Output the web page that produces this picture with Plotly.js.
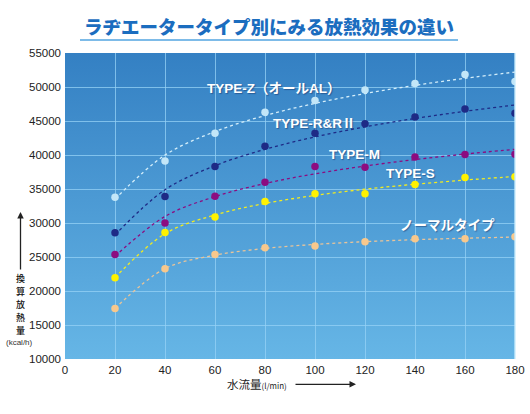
<!DOCTYPE html>
<html>
<head>
<meta charset="utf-8">
<script src="https://cdn.plot.ly/plotly-3.0.1.min.js"></script>
<style>html,body{margin:0;padding:0;background:#fff;}#chart{width:530px;height:414px;}</style>
</head>
<body>
<div id="chart"></div>
<script>
// ---- data ----
const flow = [20, 40, 60, 80, 100, 120, 140, 160, 180];
const typeZ = [33800, 39100, 43200, 46300, 48000, 49550, 50500, 51850, 50800];
const typeR = [28550, 33900, 38300, 41300, 43200, 44600, 45600, 46750, 46150];
const typeM = [25370, 30000, 33940, 36000, 38300, 38200, 39700, 40060, 40100];
const typeS = [21940, 28600, 30900, 33150, 34300, 34300, 35650, 36700, 36800];
const typeN = [17440, 23260, 25370, 26350, 26600, 27230, 27700, 27700, 27960];
const seriesNames = ['TYPE-Z（オールAL）', 'TYPE-R&RⅡ', 'TYPE-M', 'TYPE-S', 'ノーマルタイプ'];
const seriesColors = ['#c2e6f8', '#1e2a86', '#8c0c80', '#fff200', '#f8c88c'];
const lineColors = ['#d4eefa', '#1e2a86', '#8c0c80', '#f2ec20', '#e8c49a'];
const labelX = [83.4, 99.6, 115.6, 138.2, 152.8];
const labelY = [49800, 44650, 40100, 37300, 29700];
const xTicks = [0, 20, 40, 60, 80, 100, 120, 140, 160, 180];
const yTicks = [10000, 15000, 20000, 25000, 30000, 35000, 40000, 45000, 50000, 55000];
const chartTitle = 'ラヂエータータイプ別にみる放熱効果の違い';
const yLabelChars = '換算放熱量';
const yUnit = '(kcal/h)';
const xLabel = '水流量';
const xUnit = '(l/min)';

// smooth trend (least squares on basis 1, ln x, 1/x) computed from the data
function trendFit(xs, ys) {
  const basis = x => [1, Math.log(x), 1 / x];
  const A = [[0,0,0],[0,0,0],[0,0,0]], v = [0,0,0];
  xs.forEach((x, k) => {
    const f = basis(x);
    for (let i = 0; i < 3; i++) {
      v[i] += f[i] * ys[k];
      for (let j = 0; j < 3; j++) A[i][j] += f[i] * f[j];
    }
  });
  const M = A.map((r, i) => r.concat([v[i]]));
  for (let i = 0; i < 3; i++) {
    let p = i;
    for (let r = i + 1; r < 3; r++) if (Math.abs(M[r][i]) > Math.abs(M[p][i])) p = r;
    [M[i], M[p]] = [M[p], M[i]];
    for (let r = 0; r < 3; r++) {
      if (r === i) continue;
      const f = M[r][i] / M[i][i];
      for (let c = i; c < 4; c++) M[r][c] -= f * M[i][c];
    }
  }
  const c = M.map((r, i) => r[3] / r[i]);
  return xs.map(x => { const f = basis(x); return c[0] * f[0] + c[1] * f[1] + c[2] * f[2]; });
}

const allSeries = [typeZ, typeR, typeM, typeS, typeN];
const traces = [];
allSeries.forEach((ys, i) => {
  traces.push({
    x: flow, y: trendFit(flow, ys), mode: 'lines', type: 'scatter',
    line: {color: lineColors[i], width: 1.3, dash: 'dot', shape: 'spline', smoothing: 1},
    hoverinfo: 'skip', showlegend: false
  });
});
allSeries.forEach((ys, i) => {
  traces.push({
    x: flow, y: ys, mode: 'markers', type: 'scatter', name: seriesNames[i],
    marker: {color: seriesColors[i], size: 7.5}, showlegend: false
  });
});

// plot area geometry (pixels)
const L = 65, R = 15, T = 53, B = 55, W = 530, H = 414;
const pw = W - L - R, ph = H - T - B;
const px = p => (p - L) / pw;
const py = p => (H - B - p) / ph;

const FONT = 'Liberation Sans, Arial, Noto Sans CJK JP, sans-serif';
const CJK = 'Noto Sans CJK JP, sans-serif';

const grad = 'data:image/svg+xml;utf8,' + encodeURIComponent(
  '<svg xmlns="http://www.w3.org/2000/svg" width="10" height="100" preserveAspectRatio="none">' +
  '<defs><linearGradient id="g" x1="0" y1="0" x2="0" y2="1">' +
  '<stop offset="0" stop-color="#3480c3"/><stop offset="1" stop-color="#66b6e6"/>' +
  '</linearGradient></defs><rect width="10" height="100" fill="url(#g)"/></svg>');

const annotations = [];
annotations.push({
  text: chartTitle, xref: 'paper', yref: 'paper', x: px(269), y: py(26), xanchor: 'center', yanchor: 'middle',
  showarrow: false, font: {family: CJK, size: 18.5, color: '#1b6dbf', weight: 900}
});
seriesNames.forEach((s, i) => {
  annotations.push({
    text: '<b>' + s + '</b>', x: labelX[i], y: labelY[i], xref: 'x', yref: 'y', showarrow: false,
    xanchor: 'center', yanchor: 'middle',
    font: {family: FONT, size: 13.5, color: '#ffffff', shadow: '1px 1px 1px rgba(20,40,90,0.45)'}
  });
});
// vertical y-axis label: one character per line
Array.from(yLabelChars).forEach((ch, i) => {
  annotations.push({
    text: ch, xref: 'paper', yref: 'paper', x: px(20.5), y: py(278 + i * 13.1),
    xanchor: 'center', yanchor: 'middle', borderpad: 0,
    showarrow: false, font: {family: CJK, size: 9, color: '#111', weight: 500}
  });
});
annotations.push({
  text: yUnit, xref: 'paper', yref: 'paper', x: px(19), y: py(342), xanchor: 'center', yanchor: 'middle',
  showarrow: false, font: {family: FONT, size: 8, color: '#333'}
});
// y arrow
annotations.push({
  text: '', xref: 'paper', yref: 'paper', x: px(20.5), y: py(212), ax: 0, ay: 59,
  showarrow: true, arrowhead: 2, arrowsize: 1, arrowwidth: 1.3, arrowcolor: '#222'
});
// x label
annotations.push({
  text: xLabel + '<span style="font-size:8px">' + xUnit + '</span>', xref: 'paper', yref: 'paper',
  x: px(225), y: py(384), xanchor: 'left', yanchor: 'middle',
  showarrow: false, font: {family: CJK, size: 11.5, color: '#222'}
});
annotations.push({
  text: '', xref: 'paper', yref: 'paper', x: px(356), y: py(384.3), ax: -62, ay: 0,
  showarrow: true, arrowhead: 2, arrowsize: 1, arrowwidth: 1.3, arrowcolor: '#222'
});

const layout = {
  width: W, height: H,
  margin: {l: L, r: R, t: T, b: B, pad: 0},
  paper_bgcolor: '#ffffff', plot_bgcolor: 'rgba(0,0,0,0)',
  showlegend: false,
  xaxis: {
    range: [0, 180], tickvals: xTicks, ticktext: xTicks.map(String), showgrid: true,
    gridcolor: 'rgba(150,210,245,0.75)', gridwidth: 1, zeroline: false, showline: false,
    tickfont: {family: FONT, size: 11.5, color: '#222'}, ticks: '', fixedrange: true,
    ticklabelstandoff: 2
  },
  yaxis: {
    range: [10000, 55000], tickvals: yTicks, ticktext: yTicks.map(String), showgrid: true,
    gridcolor: 'rgba(150,210,245,0.75)', gridwidth: 1, zeroline: false, showline: false,
    tickfont: {family: FONT, size: 11.5, color: '#222'}, ticks: '', fixedrange: true,
    ticklabelstandoff: 3
  },
  images: [{source: grad, xref: 'paper', yref: 'paper', x: 0, y: 1, sizex: 1, sizey: 1,
            sizing: 'stretch', xanchor: 'left', yanchor: 'top', layer: 'below'}],
  shapes: [
    {type: 'line', xref: 'paper', yref: 'paper', x0: px(80), x1: px(458), y0: py(40), y1: py(40),
     line: {color: '#7dbbe8', width: 2}},
    {type: 'line', xref: 'paper', yref: 'paper', x0: 1, x1: 1, y0: 0, y1: 1,
     line: {color: 'rgba(200,235,252,0.9)', width: 1.5}}
  ],
  annotations: annotations
};

Plotly.newPlot('chart', traces, layout, {displayModeBar: false, staticPlot: true});
</script>
</body>
</html>
